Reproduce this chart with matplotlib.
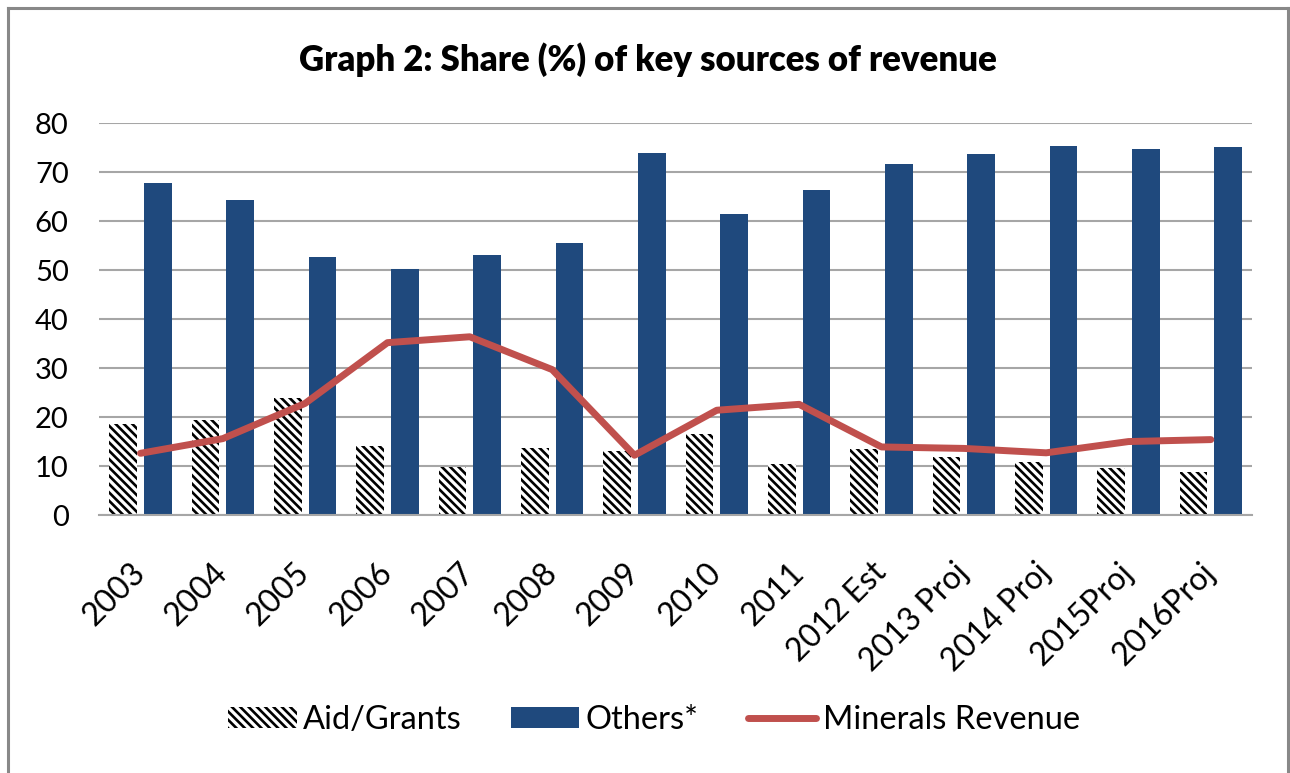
import matplotlib
matplotlib.use("Agg")
import matplotlib.pyplot as plt
from matplotlib.lines import Line2D
from matplotlib.patches import Patch
import numpy as np

categories = ["2003", "2004", "2005", "2006", "2007", "2008", "2009", "2010",
              "2011", "2012 Est", "2013 Proj", "2014 Proj", "2015Proj", "2016Proj"]
aid_grants = [18.6, 19.4, 23.8, 14.1, 9.9, 13.7, 13.1, 16.5, 10.5, 13.4, 11.9, 10.9, 9.5, 8.8]
others = [67.8, 64.3, 52.7, 50.3, 53.1, 55.6, 74.0, 61.5, 66.4, 71.6, 73.7, 75.4, 74.8, 75.1]
minerals = [12.6, 15.6, 22.8, 35.2, 36.4, 29.7, 12.2, 21.4, 22.6, 13.9, 13.6, 12.7, 15.0, 15.4]
yticks = [0, 10, 20, 30, 40, 50, 60, 70, 80]

FONT = "Lato"
plt.rcParams['font.family'] = [FONT, 'DejaVu Sans']
plt.rcParams['hatch.linewidth'] = 1.9
plt.rcParams['hatch.color'] = 'black'

W, H = 1290, 773
fig = plt.figure(figsize=(W / 100, H / 100), dpi=100)
ax = fig.add_axes([99.3 / W, 1 - 515 / H, (1252 - 99.3) / W, (515 - 123.3) / H])

x = np.arange(len(categories))
bw = 0.334
off = 0.21
BLUE = "#1F497D"
RED = "#C0504D"

ax.bar(x - off, aid_grants, width=bw, color="white", edgecolor="black",
       linewidth=0, hatch="\\\\\\\\", zorder=2)
ax.bar(x + off, others, width=bw, color=BLUE, linewidth=0, zorder=2)
ax.plot(x, minerals, color=RED, linewidth=5, solid_capstyle='round',
        solid_joinstyle='round', zorder=3)

ax.set_xlim(-0.5, len(categories) - 0.5)
ax.set_ylim(0, 80)
ax.set_yticks(yticks)
ax.set_yticklabels([str(v) for v in yticks], fontsize=21)
ax.yaxis.grid(True, color="#A6A6A6", linewidth=1.5, zorder=0)
ax.set_axisbelow(True)
for s in ["left", "right", "top"]:
    ax.spines[s].set_visible(False)
ax.spines["bottom"].set_color("#A6A6A6")
ax.spines["bottom"].set_linewidth(1.5)
ax.tick_params(axis="y", length=0, pad=22)
ax.tick_params(axis="x", length=0, pad=38)
ax.set_xticks(x)
ax.set_xticklabels(categories, fontsize=23, rotation=45, ha="right",
                   va="center", rotation_mode="anchor")

fig.text(648 / W, 1 - 60 / H, "Graph 2: Share (%) of key sources of revenue",
         ha="center", va="center", fontsize=25, fontweight="heavy")

handles = [Patch(facecolor="white", edgecolor="black", linewidth=0, hatch="\\\\\\\\"),
           Patch(facecolor=BLUE, linewidth=0),
           Line2D([0], [0], color=RED, linewidth=5, solid_capstyle='round')]
labels = ["Aid/Grants", "Others*", "Minerals Revenue"]
fig.legend(handles, labels, loc="center", bbox_to_anchor=(654 / W, 1 - 720 / H),
           ncol=3, frameon=False, fontsize=23.5, handlelength=2.1, handleheight=0.6,
           handletextpad=0.2, columnspacing=1.5)

# outer frame
fc = "#888888"
fig.add_artist(Line2D([7.5 / W, 7.5 / W], [0, 1 - 7.5 / H], color=fc, linewidth=2.2,
                      transform=fig.transFigure))
fig.add_artist(Line2D([7.5 / W, 1288 / W], [1 - 7.5 / H, 1 - 7.5 / H], color=fc,
                      linewidth=2.2, transform=fig.transFigure))
fig.add_artist(Line2D([1288 / W, 1288 / W], [0, 1 - 7.5 / H], color=fc, linewidth=2.2,
                      transform=fig.transFigure))

fig.savefig("out.png", dpi=100)
